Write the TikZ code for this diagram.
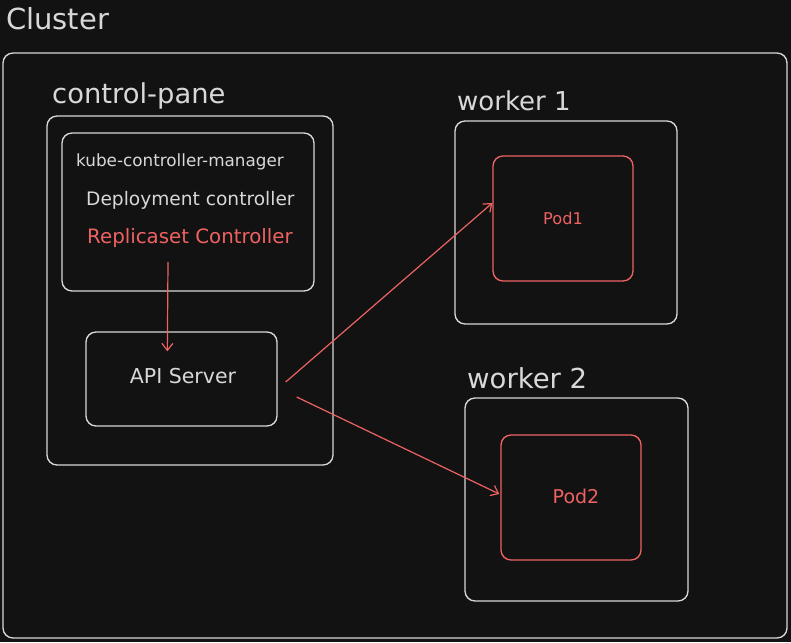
\documentclass[tikz,border=0pt]{standalone}
\usepackage{fontspec}
\setmainfont{DejaVu Sans}
\usetikzlibrary{arrows.meta,calc}
\definecolor{bg}{HTML}{121212}
\definecolor{fg}{HTML}{D8D8D8}
\definecolor{rd}{HTML}{EE6262}
\begin{document}
\begin{tikzpicture}[x=1pt,y=-1pt,
  box/.style={draw=fg,line width=1.35pt,rounded corners=10pt,inner sep=0pt},
  redbox/.style={draw=rd,line width=1.35pt,rounded corners=10pt,inner sep=0pt},
  lbl/.style={text=fg,inner sep=0pt,anchor=west},
  redlbl/.style={text=rd,inner sep=0pt},
  conn/.style={draw=rd,line width=1.2pt,-{Straight Barb[length=7pt,width=11pt,line width=1.2pt]}}]
\fill[bg] (0,0) rectangle (791,642);
\useasboundingbox (0,0) rectangle (791,642);
% boxes
\node[box,minimum width=784pt,minimum height=585pt] (cluster) at (395,345.5) {};
\node[box,minimum width=286pt,minimum height=349pt] (cp) at (190,290.5) {};
\node[box,minimum width=252pt,minimum height=158pt] (kcm) at (188,212) {};
\node[box,minimum width=191pt,minimum height=94pt] (api) at (181.5,379) {};
\node[box,minimum width=222pt,minimum height=203pt] (w1) at (566,222.5) {};
\node[redbox,minimum width=140pt,minimum height=125pt] (pod1) at (563,218.5) {};
\node[box,minimum width=223pt,minimum height=203pt] (w2) at (576.5,499.5) {};
\node[redbox,minimum width=140pt,minimum height=125pt] (pod2) at (571,497.5) {};
% labels
\node[lbl,font=\fontsize{29}{32}\selectfont] (tcluster) at (6,19) {Cluster};
\node[lbl,font=\fontsize{27.4}{30}\selectfont] (tcp) at (52,96) {control-pane};
\node[lbl,font=\fontsize{16.8}{19}\selectfont] (tkcm) at (76,162) {kube-controller-manager};
\node[lbl,font=\fontsize{18.6}{21}\selectfont] (tdep) at (86,200) {Deployment controller};
\node[lbl,text=rd,font=\fontsize{19.8}{22}\selectfont] (rs) at (87,238) {Replicaset Controller};
\node[text=fg,inner sep=0pt,font=\fontsize{20.5}{23}\selectfont] (tapi) at (183,376) {API Server};
\node[lbl,font=\fontsize{26}{28}\selectfont] (tw1) at (457,101) {worker 1};
\node[lbl,font=\fontsize{27.5}{30}\selectfont] (tw2) at (467,378) {worker 2};
\node[redlbl,font=\fontsize{16.2}{19}\selectfont] (tpod1) at (563,218) {Pod1};
\node[redlbl,font=\fontsize{19}{21}\selectfont] (tpod2) at (576,496) {Pod2};
% connectors
\coordinate (rsout) at ($(rs.west)+(81,24)$);
\coordinate (apiin) at ($(api.north west)+(82,20)$);
\draw[conn] (rsout) -- (apiin);
\draw[conn] ($(api.east)+(8,3)$) -- ($(pod1.west)+(0,-15.5)$);
\draw[conn] ($(api.east)+(19,18)$) -- ($(pod2.west)+(-1,-3.5)$);
\end{tikzpicture}
\end{document}
